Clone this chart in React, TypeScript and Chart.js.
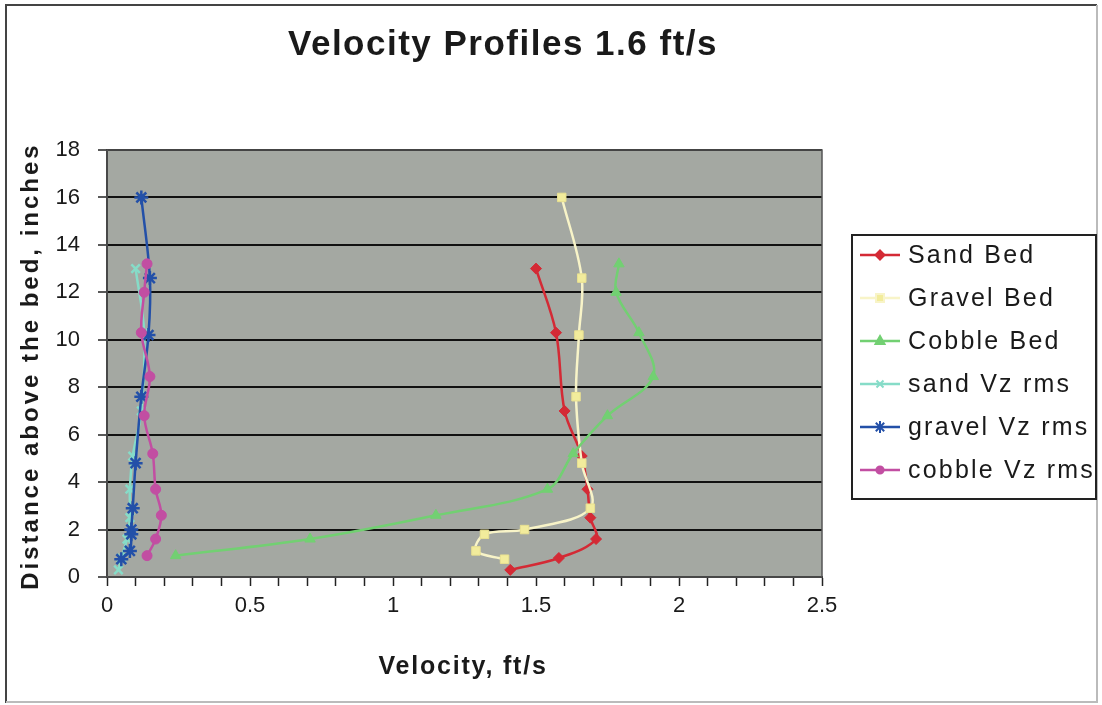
import React, { useEffect, useRef } from "react";
import { Chart, registerables } from "chart.js";

Chart.register(...registerables);

const sandBedX = [1.5, 1.57, 1.6, 1.66, 1.68, 1.69, 1.71, 1.58, 1.41];
const sandBedY = [13.0, 10.3, 7.0, 5.1, 3.7, 2.5, 1.6, 0.8, 0.3];
const gravelBedX = [1.59, 1.66, 1.65, 1.64, 1.66, 1.69, 1.46, 1.32, 1.29, 1.39];
const gravelBedY = [16.0, 12.6, 10.2, 7.6, 4.8, 2.9, 2.0, 1.8, 1.1, 0.75];
const cobbleBedX = [1.79, 1.78, 1.86, 1.91, 1.75, 1.63, 1.54, 1.15, 0.71, 0.24];
const cobbleBedY = [13.2, 12.0, 10.3, 8.45, 6.8, 5.2, 3.7, 2.6, 1.6, 0.9];
const sandVzX = [0.1, 0.13, 0.12, 0.09, 0.08, 0.08, 0.07, 0.05, 0.04];
const sandVzY = [13.0, 10.3, 7.0, 5.1, 3.7, 2.5, 1.6, 0.8, 0.3];
const gravelVzX = [0.12, 0.15, 0.145, 0.12, 0.1, 0.09, 0.085, 0.085, 0.08, 0.05];
const gravelVzY = [16.0, 12.6, 10.2, 7.6, 4.8, 2.9, 2.0, 1.8, 1.1, 0.75];
const cobbleVzX = [0.14, 0.13, 0.12, 0.15, 0.13, 0.16, 0.17, 0.19, 0.17, 0.14];
const cobbleVzY = [13.2, 12.0, 10.3, 8.45, 6.8, 5.2, 3.7, 2.6, 1.6, 0.9];

const seriesNames = ["Sand Bed", "Gravel Bed", "Cobble Bed", "sand Vz rms", "gravel Vz rms", "cobble Vz rms"];
const titleText = "Velocity Profiles 1.6 ft/s";
const xTitle = "Velocity, ft/s";
const yTitle = "Distance above the bed, inches";

const FONT = "'Liberation Sans', Arial, sans-serif";

const pts = (xs: number[], ys: number[]) => xs.map((x, i) => ({ x, y: ys[i] }));

const styles = [
  { line: "#d42a35", fill: "#d42a35", point: "rectRot", r: 5.5 },
  { line: "#f8f4c8", fill: "#f2ec9c", point: "rect", r: 6 },
  { line: "#72d072", fill: "#72d072", point: "triangle", r: 6 },
  { line: "#86dcc8", fill: "#86dcc8", point: "crossRot", r: 6 },
  { line: "#2350a8", fill: "#2350a8", point: "star", r: 7 },
  { line: "#c24ea2", fill: "#c24ea2", point: "circle", r: 5 },
];

const seriesData = [
  pts(sandBedX, sandBedY),
  pts(gravelBedX, gravelBedY),
  pts(cobbleBedX, cobbleBedY),
  pts(sandVzX, sandVzY),
  pts(gravelVzX, gravelVzY),
  pts(cobbleVzX, cobbleVzY),
];

const decorPlugin = {
  id: "decor",
  beforeDraw(chart: any) {
    const { ctx, chartArea } = chart;
    ctx.save();
    ctx.fillStyle = "#ffffff";
    ctx.fillRect(0, 0, chart.width, chart.height);
    ctx.fillStyle = "#a4a8a2";
    ctx.fillRect(chartArea.left, chartArea.top, chartArea.right - chartArea.left, chartArea.bottom - chartArea.top);
    ctx.restore();
  },
  afterDraw(chart: any) {
    const { ctx, chartArea } = chart;
    ctx.save();
    // plot frame
    ctx.strokeStyle = "#555";
    ctx.lineWidth = 1.5;
    ctx.strokeRect(chartArea.left, chartArea.top, chartArea.right - chartArea.left, chartArea.bottom - chartArea.top);
    // outer border
    ctx.strokeStyle = "#444";
    ctx.lineWidth = 2;
    ctx.beginPath();
    ctx.moveTo(6, 703);
    ctx.lineTo(6, 5);
    ctx.lineTo(1097, 5);
    ctx.stroke();
    ctx.strokeStyle = "#bbb";
    ctx.beginPath();
    ctx.moveTo(1097, 5);
    ctx.lineTo(1097, 702);
    ctx.lineTo(6, 702);
    ctx.stroke();

    ctx.fillStyle = "#1a1a1a";
    ctx.textBaseline = "middle";
    ctx.textAlign = "center";
    // title
    ctx.font = `bold 35px ${FONT}`;
    (ctx as any).letterSpacing = "1.5px";
    ctx.fillText(titleText, 503, 45);
    // x title
    ctx.font = `bold 25px ${FONT}`;
    (ctx as any).letterSpacing = "1.8px";
    ctx.fillText(xTitle, 463, 667);
    // y title
    ctx.save();
    ctx.translate(31, 366);
    ctx.rotate(-Math.PI / 2);
    ctx.font = `bold 24px ${FONT}`;
    (ctx as any).letterSpacing = "3px";
    ctx.fillText(yTitle, 0, 0);
    ctx.restore();

    // legend
    ctx.strokeStyle = "#222";
    ctx.lineWidth = 2;
    ctx.strokeRect(852, 235, 244, 264);
    ctx.font = `25px ${FONT}`;
    (ctx as any).letterSpacing = "2.2px";
    ctx.textAlign = "left";
    const metas = chart.data.datasets;
    for (let i = 0; i < seriesNames.length; i++) {
      const y = 255 + i * 43;
      const s = styles[i];
      ctx.strokeStyle = s.line;
      ctx.lineWidth = 2.5;
      ctx.beginPath();
      ctx.moveTo(860, y);
      ctx.lineTo(900, y);
      ctx.stroke();
      const ds = metas[i];
      (Chart as any).helpers?.drawPoint;
      drawMarker(ctx, s.point, 880, y, s.r - 1, s.fill, s.line);
      ctx.fillStyle = "#1a1a1a";
      ctx.fillText(seriesNames[i], 908, y + 1);
    }
    ctx.restore();
  },
};

function drawMarker(ctx: CanvasRenderingContext2D, style: string, x: number, y: number, r: number, fill: string, stroke: string) {
  ctx.save();
  ctx.fillStyle = fill;
  ctx.strokeStyle = stroke;
  ctx.lineWidth = 2;
  ctx.beginPath();
  if (style === "rectRot") {
    ctx.moveTo(x, y - r); ctx.lineTo(x + r, y); ctx.lineTo(x, y + r); ctx.lineTo(x - r, y); ctx.closePath();
    ctx.fill(); ctx.stroke();
  } else if (style === "rect") {
    ctx.rect(x - r * 0.8, y - r * 0.8, r * 1.6, r * 1.6);
    ctx.fill(); ctx.stroke();
  } else if (style === "triangle") {
    ctx.moveTo(x, y - r); ctx.lineTo(x + r * 0.9, y + r * 0.6); ctx.lineTo(x - r * 0.9, y + r * 0.6); ctx.closePath();
    ctx.fill(); ctx.stroke();
  } else if (style === "crossRot") {
    const d = r * 0.7;
    ctx.moveTo(x - d, y - d); ctx.lineTo(x + d, y + d); ctx.moveTo(x + d, y - d); ctx.lineTo(x - d, y + d);
    ctx.stroke();
  } else if (style === "star") {
    const d = r * 0.7;
    ctx.moveTo(x - d, y - d); ctx.lineTo(x + d, y + d); ctx.moveTo(x + d, y - d); ctx.lineTo(x - d, y + d);
    ctx.moveTo(x, y - r); ctx.lineTo(x, y + r);
    ctx.stroke();
  } else {
    ctx.arc(x, y, r * 0.9, 0, Math.PI * 2);
    ctx.fill(); ctx.stroke();
  }
  ctx.restore();
}

export default function App() {
  const ref = useRef<HTMLCanvasElement | null>(null);
  useEffect(() => {
    if (!ref.current) return;
    Chart.defaults.font.family = FONT;
    const chart = new Chart(ref.current, {
      type: "scatter",
      data: {
        datasets: seriesData.map((d, i) => ({
          label: seriesNames[i],
          data: d,
          showLine: true,
          tension: 0.35,
          borderColor: styles[i].line,
          backgroundColor: styles[i].fill,
          borderWidth: 2.5,
          pointStyle: styles[i].point as any,
          pointRadius: styles[i].r,
          pointBackgroundColor: styles[i].fill,
          pointBorderColor: styles[i].point === "rect" ? "#e8e090" : styles[i].line,
          pointBorderWidth: styles[i].point === "star" || styles[i].point === "crossRot" ? 2.5 : 1,
          order: 10 - i,
        })),
      },
      options: {
        responsive: false,
        animation: false,
        devicePixelRatio: 1,
        layout: { padding: { left: 0, top: 150, right: 280, bottom: 0 } },
        plugins: { legend: { display: false }, title: { display: false }, tooltip: { enabled: false } },
        scales: {
          x: {
            type: "linear",
            min: 0,
            max: 2.5,
            afterFit: (s: any) => { s.height = 128; },
            border: { color: "#222", width: 2 },
            grid: { drawOnChartArea: false, drawTicks: true, tickLength: 9, tickColor: "#222", tickWidth: 1.5 },
            ticks: {
              stepSize: 0.1,
              autoSkip: false,
              maxRotation: 0,
              padding: 7,
              color: "#1a1a1a",
              font: { size: 22, family: FONT },
              callback: (v: any) => {
                const n = Number(v);
                if (Math.abs(n * 2 - Math.round(n * 2)) < 1e-6) {
                  return String(Math.round(n * 2) / 2);
                }
                return "";
              },
            },
          },
          y: {
            type: "linear",
            min: 0,
            max: 18,
            afterFit: (s: any) => { s.width = 107; },
            border: { color: "#222", width: 2 },
            grid: { color: "#111", lineWidth: 2, drawTicks: true, tickLength: 9, tickColor: "#222", tickWidth: 1.5 },
            ticks: {
              stepSize: 2,
              padding: 18,
              color: "#1a1a1a",
              font: { size: 22, family: FONT },
            },
          },
        },
      },
      plugins: [decorPlugin],
    });
    return () => chart.destroy();
  }, []);
  return (
    <div style={{ position: "fixed", left: 0, top: 0, width: 1102, height: 705, background: "#fff" }}>
      <canvas ref={ref} width={1102} height={705} style={{ display: "block", width: 1102, height: 705 }} />
    </div>
  );
}
